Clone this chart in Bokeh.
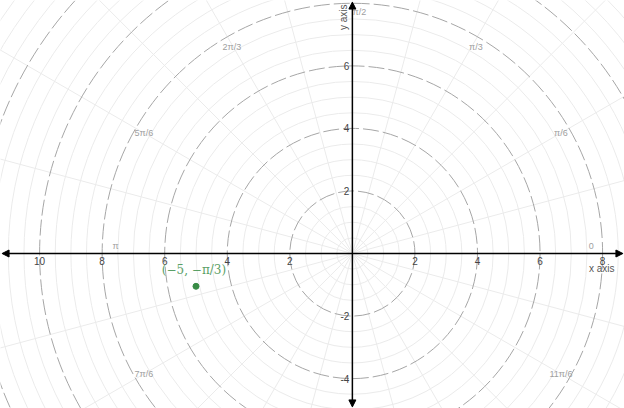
import numpy as np
from bokeh.plotting import figure
from bokeh.models import Arrow, NormalHead, ColumnDataSource
from bokeh.core.properties import value
from bokeh.embed import file_html
from bokeh.resources import INLINE

# ---- data ----
x_tick_vals = [-10, -8, -6, -4, -2, 2, 4, 6, 8]
x_tick_labels = ["10", "8", "6", "4", "2", "2", "4", "6", "8"]
y_tick_vals = [-4, -2, 2, 4, 6]
y_tick_labels = ["-4", "-2", "2", "4", "6"]
angle_vals = [0, np.pi/6, np.pi/3, np.pi/2, 2*np.pi/3, 5*np.pi/6, np.pi, 7*np.pi/6, 11*np.pi/6]
angle_labels = ["0", "π/6", "π/3", "π/2", "2π/3", "5π/6", "π", "7π/6", "11π/6"]
minor_radii = [r * 0.5 for r in range(1, 29)]
major_radii = [2, 4, 6, 8, 10, 12, 14]
spoke_angles = [k * np.pi / 12 for k in range(24)]
point_x = [-5]
point_y = [-np.pi / 3]
point_label = ["(−5, −π/3)"]

XMIN, XMAX = -11.25, 8.7
YMIN, YMAX = -4.95, 8.08

p = figure(width=624, height=408, x_range=(XMIN, XMAX), y_range=(YMIN, YMAX),
           output_backend="svg", toolbar_location=None, min_border=0)
p.axis.visible = False
p.grid.visible = False
p.outline_line_color = None
p.background_fill_color = "white"

# spokes
R = 16
p.segment(x0=0, y0=0, x1=[R*np.cos(a) for a in spoke_angles], y1=[R*np.sin(a) for a in spoke_angles],
          line_color="#ebebeb", line_width=1)
# minor circles
minor_only = [r for r in minor_radii if r not in major_radii]
p.circle(x=0, y=0, radius=minor_only, fill_color=None, line_color="#ebebeb", line_width=1)
# major circles
p.circle(x=0, y=0, radius=major_radii, fill_color=None, line_color="#a6a6a6", line_width=1,
         line_dash="16 4")

# axes with arrows
p.add_layout(Arrow(start=NormalHead(size=7, fill_color="black", line_color="black"),
                   end=NormalHead(size=7, fill_color="black", line_color="black"),
                   x_start=XMIN + 0.05, y_start=0, x_end=XMAX - 0.05, y_end=0,
                   line_color="black", line_width=1.5))
p.add_layout(Arrow(start=NormalHead(size=7, fill_color="black", line_color="black"),
                   end=NormalHead(size=7, fill_color="black", line_color="black"),
                   x_start=0, y_start=YMIN + 0.05, x_end=0, y_end=YMAX - 0.05,
                   line_color="black", line_width=1.5))

# tick labels
p.text(x=x_tick_vals, y=[0]*len(x_tick_vals), text=x_tick_labels, text_align="center",
       text_baseline="top", y_offset=3, text_font_size="10px", text_color="#444444",
       text_font=value("Liberation Sans"))
p.text(x=[0]*len(y_tick_vals), y=y_tick_vals, text=y_tick_labels, text_align="right",
       text_baseline="middle", x_offset=-3, text_font_size="10px", text_color="#444444",
       text_font=value("Liberation Sans"))

# angle labels
rl = 7.7
ax_ = [rl*np.cos(a) for a in angle_vals]
ay_ = [rl*np.sin(a) for a in angle_vals]
xo = [-2, 0, 3, 7, 0, 0, 4, 0, 0]
yo = [-8, 0, 2, 0, 2, 0, -8, 0, 0]
src = ColumnDataSource(dict(x=ax_, y=ay_, t=angle_labels, xo=xo, yo=yo))
p.text(x="x", y="y", text="t", x_offset="xo", y_offset="yo", source=src, text_align="center",
       text_baseline="middle", text_font_size="9px", text_color="#a0a0a0",
       text_font=value("Liberation Sans"))

# axis labels
p.text(x=[XMAX], y=[0], text=["x axis"], text_align="right", text_baseline="top",
       x_offset=-10, y_offset=9, text_font_size="10px", text_color="#555555",
       text_font=value("Liberation Sans"))
p.text(x=[0], y=[YMAX], text=["y axis"], text_align="right", text_baseline="bottom",
       angle=np.pi/2, x_offset=-3, y_offset=4, text_font_size="10px", text_color="#555555",
       text_font=value("Liberation Sans"))

# point
p.scatter(x=point_x, y=point_y, size=6, fill_color="#388c46", line_color="#388c46")
p.text(x=point_x, y=point_y, text=point_label, text_align="center", text_baseline="bottom",
       y_offset=-9, x_offset=-2, text_font_size="12px", text_color="#5aa066",
       text_font=value("DejaVu Serif"))

open("out.html", "w").write(file_html(p, INLINE))
